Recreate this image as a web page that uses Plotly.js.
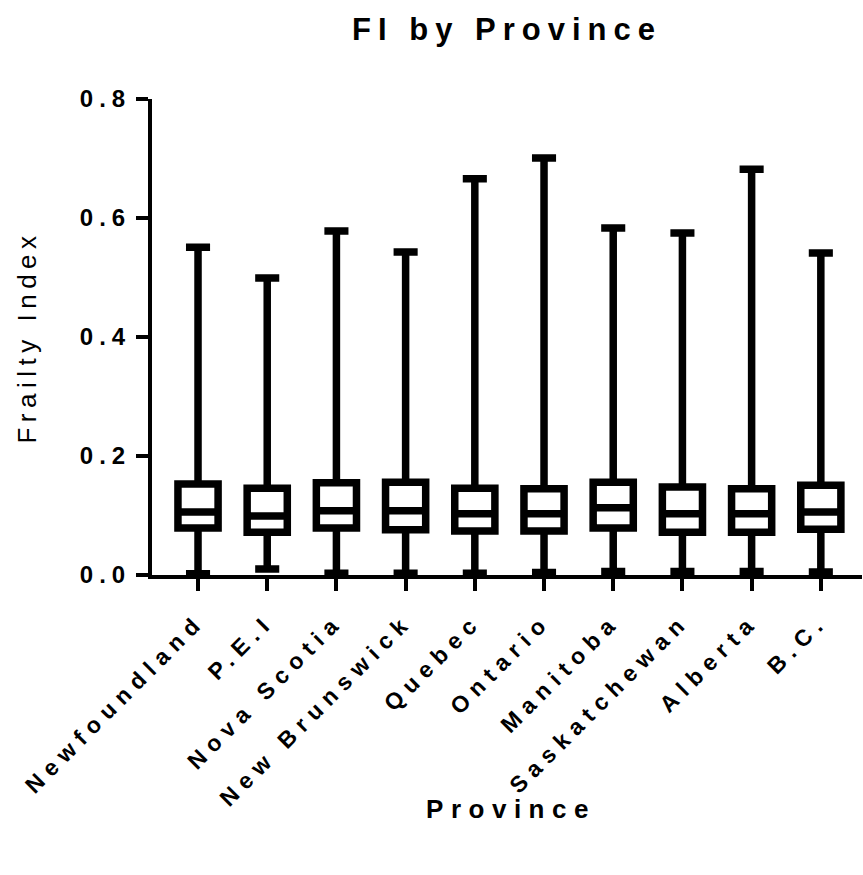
<!DOCTYPE html>
<html>
<head>
<meta charset="utf-8">
<script src="https://cdn.plot.ly/plotly-3.0.1.min.js"></script>
<style>
  html, body { margin: 0; padding: 0; background: #fff; }
  #chart { width: 863px; height: 875px; }
  .gtitle { letter-spacing: 7px; }
  .xtick text { letter-spacing: 7px; }
  .ytick text { letter-spacing: 6px; }
  .g-xtitle text { letter-spacing: 7.5px; }
  .g-ytitle text { letter-spacing: 5.5px; }
  .g-xtitle { transform: translate(4px, -10px); }
  .g-ytitle { transform: translate(-3px, 0px); }
</style>
</head>
<body>
<div id="chart"></div>
<script>
// Data
const provinces = ["Newfoundland", "P.E.I", "Nova Scotia", "New Brunswick", "Quebec",
                   "Ontario", "Manitoba", "Saskatchewan", "Alberta", "B.C."];
const lowerWhisker = [0.002, 0.010, 0.003, 0.003, 0.003, 0.004, 0.006, 0.006, 0.006, 0.005];
const q1Values     = [0.079, 0.072, 0.079, 0.076, 0.074, 0.074, 0.079, 0.072, 0.072, 0.077];
const medianValues = [0.106, 0.099, 0.108, 0.108, 0.103, 0.103, 0.113, 0.103, 0.103, 0.106];
const q3Values     = [0.153, 0.146, 0.155, 0.156, 0.146, 0.145, 0.156, 0.148, 0.145, 0.151];
const upperWhisker = [0.551, 0.499, 0.578, 0.543, 0.666, 0.701, 0.583, 0.575, 0.682, 0.541];
const yTickValues  = [0, 0.2, 0.4, 0.6, 0.8];

const trace = {
  type: "box",
  x: provinces,
  q1: q1Values,
  median: medianValues,
  q3: q3Values,
  lowerfence: lowerWhisker,
  upperfence: upperWhisker,
  boxpoints: false,
  width: 0.58,
  whiskerwidth: 0.6,
  fillcolor: "#ffffff",
  line: { color: "#000000", width: 7.5 },
  showlegend: false,
  hoverinfo: "skip"
};

const fontFam = "Liberation Sans, Arial, Helvetica, sans-serif";

const layout = {
  width: 863,
  height: 875,
  paper_bgcolor: "#ffffff",
  plot_bgcolor: "#ffffff",
  margin: { l: 152, r: 1, t: 99, b: 300, autoexpand: false },
  title: {
    text: "FI by Province",
    font: { family: fontFam, size: 31, weight: "bold", color: "#000" },
    xref: "paper", x: 0.5, xanchor: "center",
    yref: "container", y: 1 - 29 / 875, yanchor: "middle"
  },
  xaxis: {
    type: "category",
    range: [-0.665, 9.595],
    showline: true, linecolor: "#000", linewidth: 4,
    ticks: "outside", ticklen: 12, tickwidth: 4, tickcolor: "#000",
    tickangle: -45,
    ticklabelstandoff: 8,
    tickfont: { family: fontFam, size: 23, weight: "bold", color: "#000" },
    showgrid: false, zeroline: false,
    automargin: false,
    title: {
      text: "Province",
      font: { family: fontFam, size: 26, weight: "bold", color: "#000" },
      standoff: 0
    }
  },
  yaxis: {
    range: [0, 0.8],
    tickvals: yTickValues,
    tickformat: ".1f",
    showline: true, linecolor: "#000", linewidth: 4,
    ticks: "outside", ticklen: 12, tickwidth: 4, tickcolor: "#000",
    tickfont: { family: fontFam, size: 24, weight: "bold", color: "#000" },
    showgrid: false, zeroline: false,
    automargin: false,
    title: {
      text: "Frailty Index",
      font: { family: fontFam, size: 26, color: "#000" },
      standoff: 34
    }
  }
};

Plotly.newPlot("chart", [trace], layout, { displayModeBar: false, staticPlot: true });
</script>
</body>
</html>
